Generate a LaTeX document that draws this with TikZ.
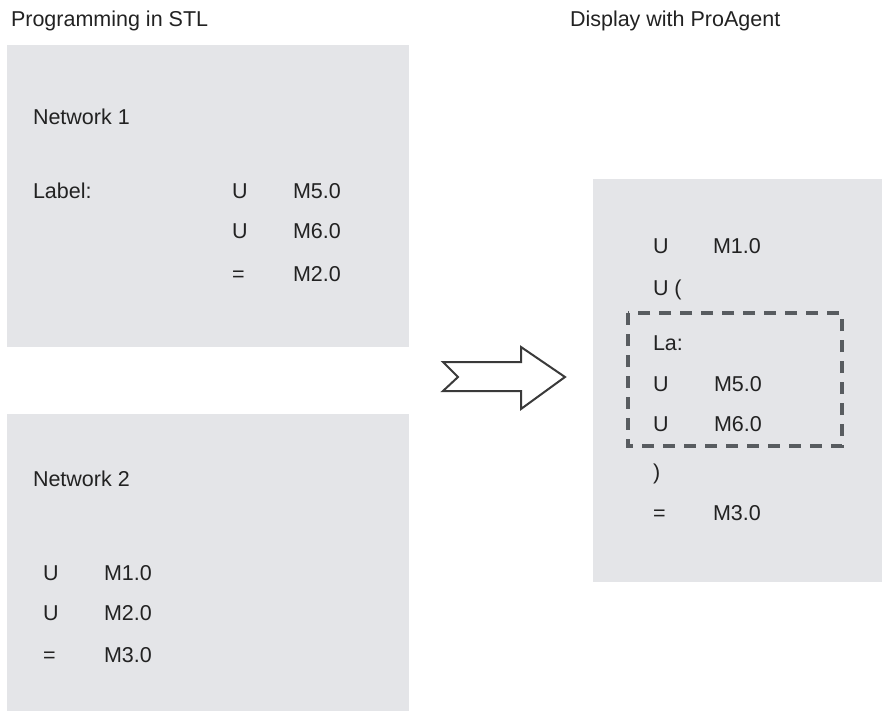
\documentclass[tikz,border=0pt]{standalone}
\usepackage{fontspec}
\setmainfont{Liberation Sans}
\definecolor{panel}{HTML}{E4E5E8}
\definecolor{ink}{HTML}{222222}
\definecolor{dashc}{HTML}{585C60}
\definecolor{arrowc}{HTML}{3A3A3A}
\tikzset{
  panelbox/.style={fill=panel, draw=none},
  txt/.style={anchor=base west, inner sep=0pt, outer sep=0pt, text=ink, font=\fontsize{21.5}{24}\selectfont},
  dashbox/.style={draw=dashc, line width=3.2pt, dash pattern=on 12pt off 9pt},
  bigarrow/.style={draw=arrowc, line width=2pt, fill=white, line join=miter}
}
\begin{document}
\begin{tikzpicture}[x=1pt,y=-1pt]
\useasboundingbox (0,0) rectangle (883,711);
% panels
\fill[panelbox] (7,45) rectangle (409,347);
\fill[panelbox] (7,414) rectangle (409,711);
\fill[panelbox] (593,179) rectangle (882,582);
% titles
\node[txt] (t1) at (11,27) {Programming in STL};
\node[txt] (t2) at (570,27) {Display with ProAgent};
% network 1
\node[txt] (n1) at (33,125) {Network 1};
\node[txt] (lab) at (33,199) {Label:};
\node[txt] (a1) at (232,199) {U};
\node[txt] (b1) at (293,199) {M5.0};
\node[txt] (a2) at (232,239) {U};
\node[txt] (b2) at (293,239) {M6.0};
\node[txt] (a3) at (232,282) {=};
\node[txt] (b3) at (293,282) {M2.0};
% network 2
\node[txt] (n2) at (33,486) {Network 2};
\node[txt] (c1) at (43,580) {U};
\node[txt] (d1) at (104,580) {M1.0};
\node[txt] (c2) at (43,620) {U};
\node[txt] (d2) at (104,620) {M2.0};
\node[txt] (c3) at (43,662) {=};
\node[txt] (d3) at (104,662) {M3.0};
% right panel
\node[txt] (e1) at (653,254) {U};
\node[txt] (f1) at (713,254) {M1.0};
\node[txt] (e2) at (653,295) {U (};
\node[txt] (e3) at (653,350) {La:};
\node[txt] (e4) at (653,391) {U};
\node[txt] (f4) at (714,391) {M5.0};
\node[txt] (e5) at (653,431) {U};
\node[txt] (f5) at (714,431) {M6.0};
\node[txt] (e6) at (653,479) {)};
\node[txt] (e7) at (653,520) {=};
\node[txt] (f7) at (713,520) {M3.0};
% dashed group
\draw[dashbox] (628,313) rectangle (842,446);
% big hollow arrow
\draw[bigarrow] (443,362) -- (521,362) -- (521,347) -- (565,377) -- (521,409) -- (521,391) -- (443,391) -- (458,377) -- cycle;
\end{tikzpicture}
\end{document}
